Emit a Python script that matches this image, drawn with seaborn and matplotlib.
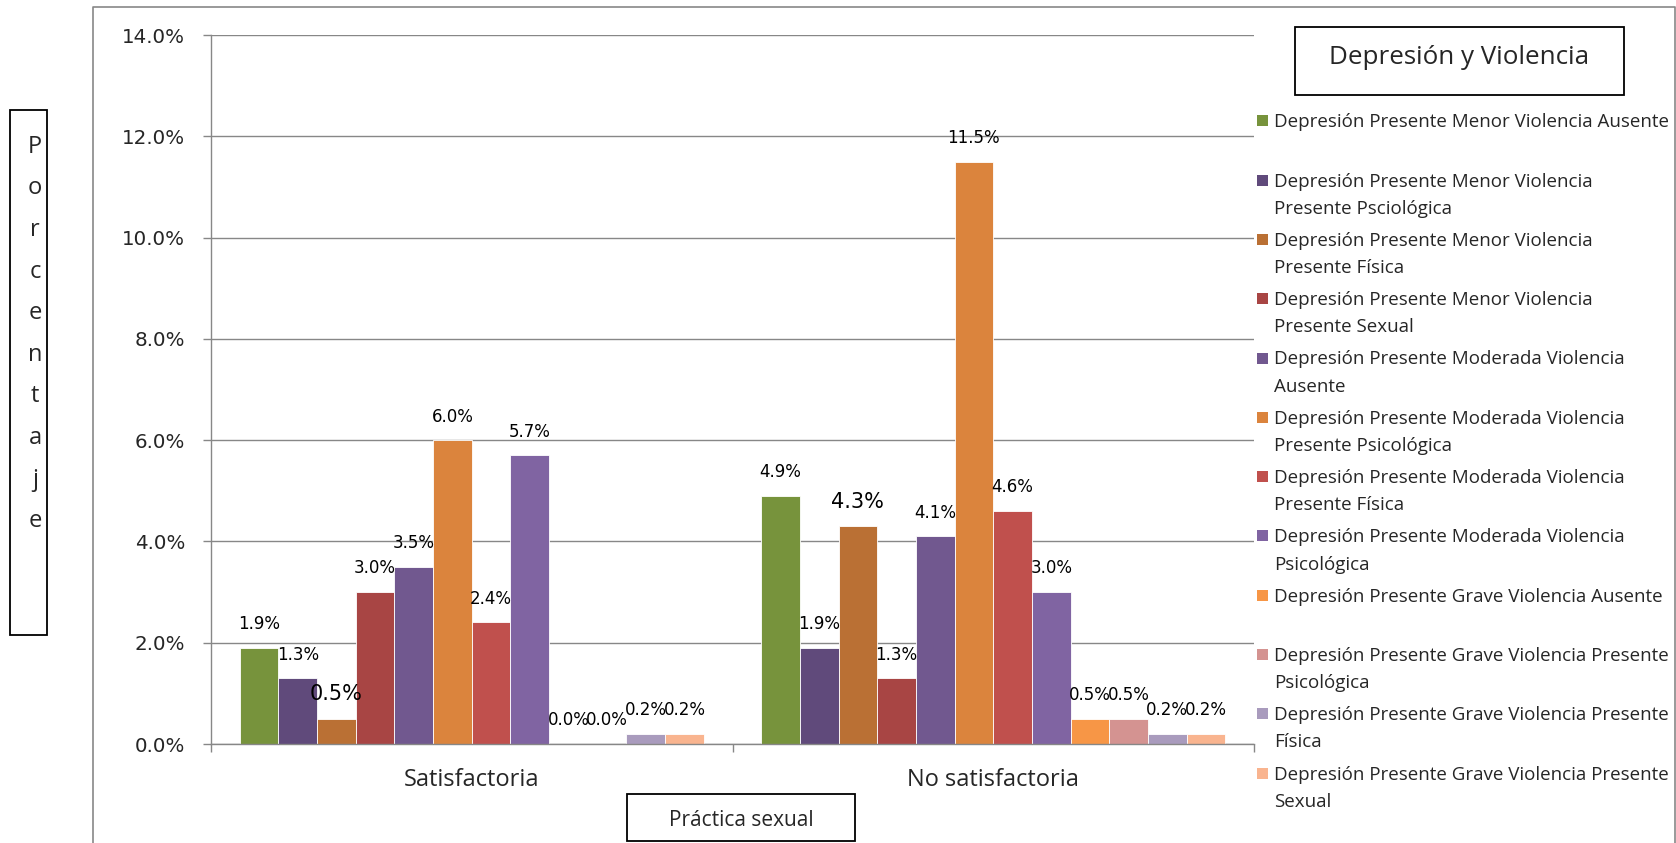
import numpy as np
import pandas as pd
import seaborn as sns
import matplotlib.pyplot as plt
from matplotlib.patches import Rectangle
from matplotlib.lines import Line2D

categories = ["Satisfactoria", "No satisfactoria"]
series = [
    "Depresión Presente Menor Violencia Ausente",
    "Depresión Presente Menor Violencia\nPresente Psciológica",
    "Depresión Presente Menor Violencia\nPresente Física",
    "Depresión Presente Menor Violencia\nPresente Sexual",
    "Depresión Presente Moderada Violencia\nAusente",
    "Depresión Presente Moderada Violencia\nPresente Psicológica",
    "Depresión Presente Moderada Violencia\nPresente Física",
    "Depresión Presente Moderada Violencia\nPsicológica",
    "Depresión Presente Grave Violencia Ausente",
    "Depresión Presente Grave Violencia Presente\nPsicológica",
    "Depresión Presente Grave Violencia Presente\nFísica",
    "Depresión Presente Grave Violencia Presente\nSexual",
]
satisfactoria = [1.9, 1.3, 0.5, 3.0, 3.5, 6.0, 2.4, 5.7, 0.0, 0.0, 0.2, 0.2]
no_satisfactoria = [4.9, 1.9, 4.3, 1.3, 4.1, 11.5, 4.6, 3.0, 0.5, 0.5, 0.2, 0.2]
yticks = [0, 2, 4, 6, 8, 10, 12, 14]
colors = ["#77933C", "#604A7B", "#BA7034", "#A84544", "#71588F", "#DB843D",
          "#C0504D", "#8064A2", "#F79646", "#D49391", "#A99BBD", "#F9B48F"]

series_names = [s.replace("\n", " ") for s in series]
df = pd.DataFrame({
    "Práctica sexual": np.repeat(categories, len(series)),
    "Serie": series_names * 2,
    "Porcentaje": satisfactoria + no_satisfactoria,
})

sns.set_style("white")
plt.rcParams["font.family"] = ["DejaVu Sans"]
CAL = ["Open Sans", "DejaVu Sans"]
GRAY = "#878787"

W, H = 1676, 843
fig = plt.figure(figsize=(W / 100, H / 100), dpi=100)
fx = lambda px: px / W
fy = lambda py: 1 - py / H

ax = fig.add_axes([fx(211), fy(744), (1254 - 211) / W, (744 - 35) / H])
sns.barplot(data=df, x="Práctica sexual", y="Porcentaje", hue="Serie",
            order=categories, hue_order=series_names, palette=colors,
            saturation=1, width=0.89, errorbar=None, legend=False, ax=ax,
            linewidth=0.6, edgecolor="white")

ax.set_xlim(-0.5, 1.5)
ax.set_ylim(0, 14)
ax.set_yticks(yticks)
ax.set_yticklabels([f"{v:.1f}%" for v in yticks])
ax.yaxis.grid(True, color=GRAY, linewidth=1.0)
ax.set_axisbelow(True)
for s in ["top", "right"]:
    ax.spines[s].set_visible(False)
for s in ["left", "bottom"]:
    ax.spines[s].set_color(GRAY)
    ax.spines[s].set_linewidth(1.0)
ax.tick_params(axis="y", length=6, width=1, color=GRAY, pad=12.5,
               labelsize=14.3, left=True)
ax.tick_params(axis="x", which="major", length=0, pad=17, labelsize=17)
ax.set_xticks([-0.5, 0.5, 1.5], minor=True)
ax.tick_params(axis="x", which="minor", length=6, width=1, color=GRAY,
               bottom=True)
for lab in ax.get_xticklabels():
    lab.set_family(CAL)
ax.set_xlabel("")
ax.set_ylabel("")

for i, cont in enumerate(ax.containers):
    labels = [f"{v:.1f}%" for v in cont.datavalues]
    ax.bar_label(cont, labels=labels, padding=10.5,
                 fontsize=15 if i == 2 else 12, color="black")

# outer frame
fig.add_artist(Line2D([fx(93), fx(93), fx(1675), fx(1675)],
                      [fy(850), fy(7), fy(7), fy(850)],
                      transform=fig.transFigure, color=GRAY, lw=1.2))

# y label box
fig.add_artist(Rectangle((fx(10), fy(635)), 37 / W, 525 / H,
                         transform=fig.transFigure, fill=False,
                         edgecolor="black", lw=1.3))
fig.text(fx(35), fy(334), "\n".join("Porcentaje"), ha="center", va="center",
         fontsize=17, linespacing=1.98, family=CAL)

# x label box
fig.add_artist(Rectangle((fx(627), fy(841)), 228 / W, 47 / H,
                         transform=fig.transFigure, fill=False,
                         edgecolor="black", lw=1.3))
fig.text(fx(741), fy(820), "Práctica sexual", ha="center", va="center",
         fontsize=15, family=CAL)

# legend title box
fig.add_artist(Rectangle((fx(1295), fy(95)), 329 / W, 68 / H,
                         transform=fig.transFigure, fill=False,
                         edgecolor="black", lw=1.3))
fig.text(fx(1459), fy(58), "Depresión y Violencia", ha="center", va="center",
         fontsize=18.7, family=CAL)

# legend entries
LINE = 25.7
for i, (lab, col) in enumerate(zip(series, colors)):
    yc = 120.8 + 59.3 * i
    nlines = lab.count("\n") + 1
    extra = 1.4 if nlines > 1 else 0.0
    fig.add_artist(Rectangle((fx(1257), fy(yc + 5.5)), 11 / W, 11 / H,
                             transform=fig.transFigure, color=col, lw=0))
    fig.text(fx(1274), fy(yc + 6.5 + LINE * (nlines - 1) + extra), lab,
             ha="left", va="baseline", fontsize=13.5, family=CAL,
             linespacing=1.65)

fig.savefig("out.png", dpi=100)
